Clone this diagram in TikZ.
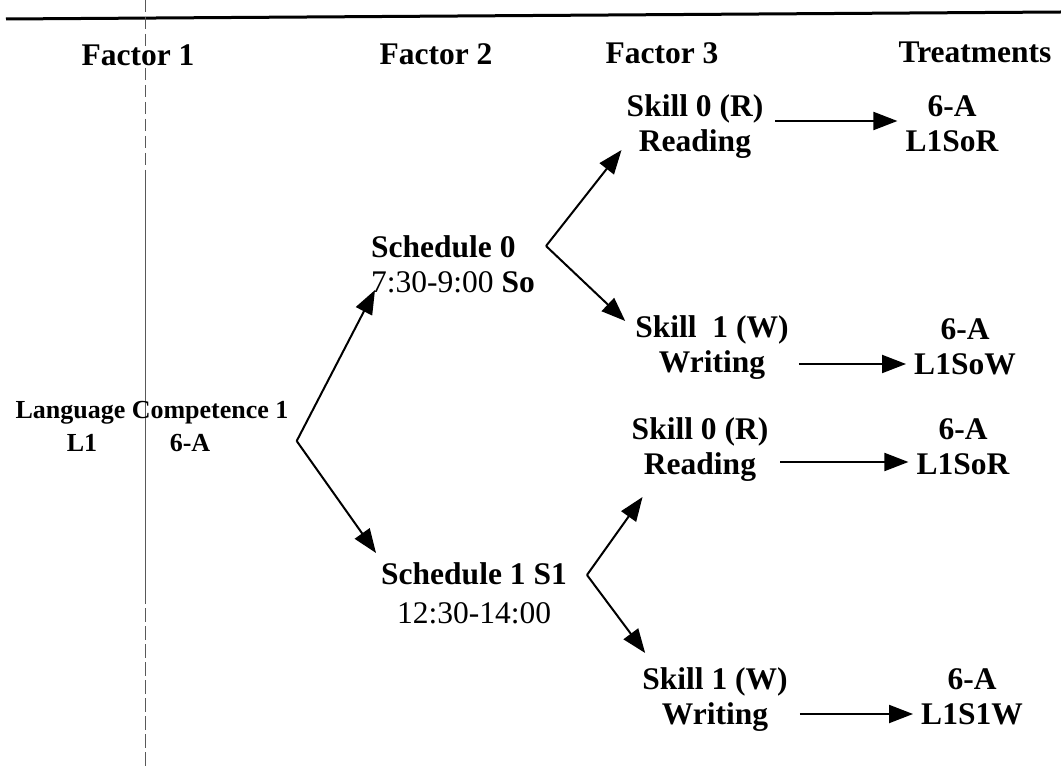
\documentclass[tikz,border=0pt]{standalone}
\usepackage{fontspec}
\setmainfont{Liberation Serif}
\usetikzlibrary{arrows.meta, positioning}

\begin{document}
\begin{tikzpicture}[x=1pt, y=-1pt,
	txt/.style={font=\fontsize{31.5}{35}\selectfont\bfseries, align=center, inner sep=0pt},
	small/.style={font=\fontsize{26}{30}\selectfont\bfseries, inner sep=0pt},
	arr/.style={line width=\aline, -{Triangle[length=24pt, width=18pt]}}]
	
	% parameters
	\def\aline{2pt}       % arrow thickness
	\def\rline{3pt}       % top rule thickness
	
	% page frame
	\useasboundingbox (0,0) rectangle (1061,767);
	
	% top rule
	\draw[line width=\rline] (6,19) -- (1061,12);
	
	% fold line of the page
	\draw[black!65, line width=1pt, dash pattern=on 12pt off 5pt] (145,0) -- (145,170);
	\draw[black!65, line width=1pt] (145,170) -- (145,590);
	\draw[black!65, line width=1pt, dash pattern=on 14pt off 4pt] (145,590) -- (145,767);
	
	% column heads
	\node[txt] (f1) at (138,55) {Factor 1};
	\node[txt] (f2) at (436,54) {Factor 2};
	\node[txt] (f3) at (662,53) {Factor 3};
	\node[txt] (trt) at (975,52) {Treatments};
	
	% factor 1
	\node[small] (lang) at (152,413) {Language Competence 1};
	\node[small] (lone) at (82,443) {L1};
	\node[small] (lsix) at (190,443) {6-A};
	
	% factor 2
	\node[txt, align=left, anchor=west] (sch0) at (371,264) {Schedule 0\\{\mdseries 7:30-9:00} So};
	\node[txt] (sch1) at (474,593) {Schedule 1 S1\\[4pt]{\mdseries 12:30-14:00}};
	
	% factor 3
	\node[txt] (skA) at (695,127) {Skill 0 (R)\\Reading};
	\node[txt] (skB) at (712,348) {Skill\ \ 1 (W)\\Writing};
	\node[txt] (skC) at (700,450) {Skill 0 (R)\\Reading};
	\node[txt] (skD) at (715,700) {Skill 1 (W)\\Writing};
	
	% treatments
	\node[txt] (trA) at (952,124) {6-A\\L1SoR};
	\node[txt] (trB) at (965,347) {6-A\\L1SoW};
	\node[txt] (trC) at (963,447) {6-A\\L1SoR};
	\node[txt] (trD) at (972,697) {6-A\\L1S1W};
	
	% branch points
	\coordinate (lang-fork) at ([shift={(8,28)}]lang.east);
	\coordinate (sch0-fork) at ([shift={(11,-18)}]sch0.east);
	\coordinate (sch1-fork) at ([shift={(20,-18)}]sch1.east);
	
	% branches
	\draw[arr] (lang-fork) -- ([shift={(4,26)}]sch0.west);
	\draw[arr] (lang-fork) -- ([shift={(-5,-40)}]sch1.west);
	\draw[arr] (sch0-fork) -- ([shift={(-5,23)}]skA.west);
	\draw[arr] (sch0-fork) -- ([shift={(-10,-27)}]skB.west);
	\draw[arr] (sch1-fork) -- ([shift={(11,47)}]skC.west);
	\draw[arr] (sch1-fork) -- ([shift={(3,-47)}]skD.west);
	
	% to treatments
	\draw[arr] ([shift={(12,-6)}]skA.east) -- ([shift={(-8,-3)}]trA.west);
	\draw[arr] ([shift={(10,16)}]skB.east) -- ([shift={(-8,17)}]trB.west);
	\draw[arr] ([shift={(12,12)}]skC.east) -- ([shift={(-8,15)}]trC.west);
	\draw[arr] ([shift={(12,14)}]skD.east) -- ([shift={(-8,17)}]trD.west);
	
\end{tikzpicture}
\end{document}
